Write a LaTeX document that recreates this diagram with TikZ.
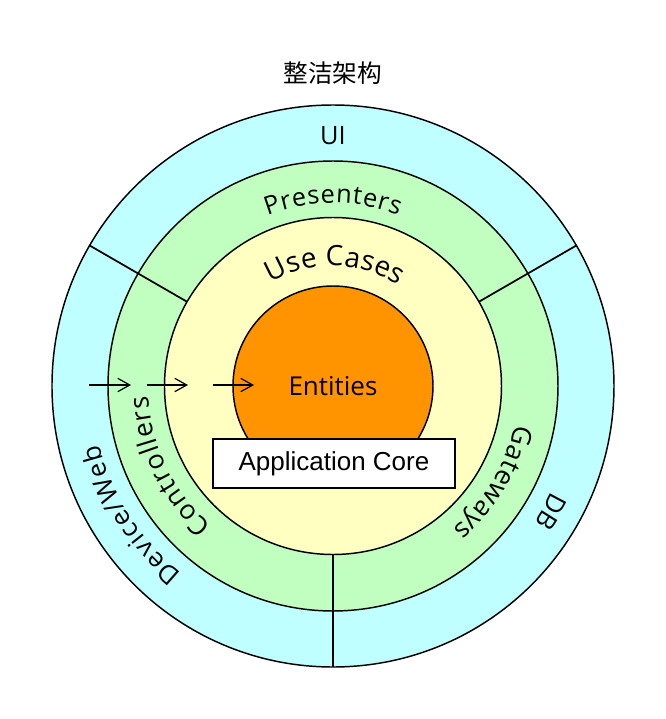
\documentclass[tikz,border=0pt]{standalone}
\usepackage{fontspec}
\usetikzlibrary{arrows.meta,decorations.text}
\newfontfamily\ringfont{Open Sans}
\newfontfamily\boxfont{Liberation Sans}
\newfontfamily\cjkfont{Noto Sans CJK SC}
\definecolor{uicyan}{HTML}{BFFFFF}
\definecolor{presgreen}{HTML}{C0FFC0}
\definecolor{caseyellow}{HTML}{FFFFC2}
\definecolor{entorange}{HTML}{FF9300}

\begin{document}
\begin{tikzpicture}[x=0.75pt,y=0.75pt,
        ring/.style={draw,line width=1.1pt},
        divider/.style={line width=1.3pt},
        flow/.style={-{Straight Barb[length=9pt,width=10pt]},line width=0.9pt},
        ringlabel/.style={decorate,decoration={text along path,text align=fit to path,text={#1}}}]
            \useasboundingbox (-333,-333) rectangle (333,386);
            \coordinate (c) at (0,0);

            \node (title) at (0,313) { \cjkfont\fontsize{18.5}{22}\selectfont 整洁架构 };

            % rings, outside in
            \draw[ring,fill=uicyan] (c) circle[radius=281];
            \draw[ring,fill=presgreen] (c) circle[radius=225];
            \draw[ring,fill=caseyellow] (c) circle[radius=168.5];

            \draw[divider] (c) ++(150:168.5) -- ++(150:112.5);
            \draw[divider] (c) ++(30:168.5) -- ++(30:112.5);
            \draw[divider] (c) ++(270:168.5) -- ++(270:112.5);

            \draw[ring,fill=entorange] (c) circle[radius=100];

            \node (ui) at (0,250) { \ringfont\fontsize{19}{22}\selectfont UI };
            \node (entities) at (0,0) { \ringfont\fontsize{19.5}{23}\selectfont Entities };

            \node[draw,line width=1.1pt,fill=white,minimum width=181.5pt,minimum height=36.75pt,inner sep=0pt]
                (core) at (1,-77.5) { \boxfont\fontsize{19.5}{22}\selectfont Application Core };

            % curved labels
            \path[ringlabel={|\ringfont\fontsize{19}{22}\selectfont|Presenters}]
                (c) ++(111:183) arc[start angle=111, end angle=69, radius=183];
            \path[ringlabel={|\ringfont\fontsize{21}{24}\selectfont|Use Cases}]
                (c) ++(121:120) arc[start angle=121, end angle=57, radius=120];
            \path[ringlabel={|\ringfont\fontsize{20}{23}\selectfont|Controllers}]
                (c) ++(229:185) arc[start angle=229, end angle=183, radius=185];
            \path[ringlabel={|\ringfont\fontsize{19.5}{23}\selectfont|Device/Web}]
                (c) ++(231:241) arc[start angle=231, end angle=194, radius=241];
            \path[ringlabel={|\ringfont\fontsize{20}{23}\selectfont|Gateways}]
                (c) ++(-12:186) arc[start angle=-12, end angle=-50, radius=186];
            \path[decorate,decoration={text along path,text align=center,text={|\ringfont\fontsize{19.5}{23}\selectfont|DB}}]
                (c) ++(-20:243) arc[start angle=-20, end angle=-40, radius=243];

            % request flow
            \coordinate (a1) at (-244,1);
            \coordinate (b1) at (-202,1);
            \coordinate (a2) at (-186,1);
            \coordinate (b2) at (-145,1);
            \coordinate (a3) at (-120,1);
            \coordinate (b3) at (-79,1);

            \draw[flow] (a1) -- (b1);
            \draw[flow] (a2) -- (b2);
            \draw[flow] (a3) -- (b3);
        \end{tikzpicture}
\end{document}
